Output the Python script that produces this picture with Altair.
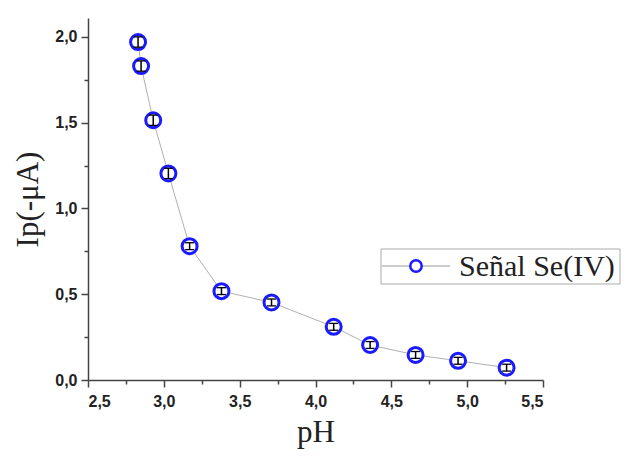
import altair as alt
import pandas as pd

# data
ph = [2.83, 2.85, 2.93, 3.03, 3.17, 3.38, 3.71, 4.12, 4.36, 4.66, 4.94, 5.26]
ip = [1.97, 1.83, 1.514, 1.204, 0.78, 0.518, 0.452, 0.31, 0.204, 0.146, 0.112, 0.072]
err = [0.03, 0.03, 0.03, 0.03, 0.02, 0.02, 0.02, 0.02, 0.02, 0.02, 0.02, 0.02]
x_ticks = [2.5, 2.75, 3.0, 3.25, 3.5, 3.75, 4.0, 4.25, 4.5, 4.75, 5.0, 5.25, 5.5]
y_ticks = [0.0, 0.25, 0.5, 0.75, 1.0, 1.25, 1.5, 1.75, 2.0]
legend_label = ["Señal Se(IV)"]

df = pd.DataFrame({"pH": ph, "Ip": ip, "err": err})
leg = pd.DataFrame({"label": legend_label})

major = "datum.value*2 == round(datum.value*2)"
label_expr = f"{major} ? replace(format(datum.value, '.1f'), '.', ',') : ''"
tick_size = {"condition": {"test": major, "value": 7}, "value": 4}

axis_common = dict(
    labelExpr=label_expr,
    labelOverlap=False,
    labelFont="Liberation Sans",
    labelFontWeight="bold",
    labelFontSize=16,
    labelColor="#222",
    titleFont="Liberation Serif",
    titleFontWeight="normal",
    titleFontSize=31,
    titleColor="#222",
    domainColor="#444",
    domainWidth=1.5,
    tickColor="#444",
    tickWidth=1.5,
    tickSize=tick_size,
    grid=False,
)

xscale = alt.Scale(domain=[2.5, 5.5], nice=False, zero=False)
yscale = alt.Scale(domain=[0, 2.11], nice=False)
xaxis = alt.Axis(values=x_ticks, title="pH", labelPadding=6, titlePadding=8, **axis_common)
yaxis = alt.Axis(values=y_ticks, title="Ip(-μA)", labelPadding=4, titlePadding=10, **axis_common)
x = alt.X("pH:Q", scale=xscale, axis=xaxis)
y = alt.Y("Ip:Q", scale=yscale, axis=yaxis)

base = alt.Chart(df).transform_calculate(lo="datum.Ip - datum.err", hi="datum.Ip + datum.err")
line = base.mark_line(color="#b0b0b0", strokeWidth=1).encode(x=x, y=y)
pts = base.mark_point(shape="circle", size=225, filled=False, fill="white", fillOpacity=1,
                      stroke="#1a1aff", strokeWidth=3, opacity=1).encode(x=x, y=y)
bar = base.mark_rule(color="black", strokeWidth=1.5).encode(
    x=x, y=alt.Y("lo:Q", scale=yscale, axis=yaxis), y2="hi:Q")
cap_shape = "M-1,0L1,0"
cap_lo = base.mark_point(shape=cap_shape, size=81, stroke="black", strokeWidth=1.3, opacity=1).encode(
    x=x, y=alt.Y("lo:Q", scale=yscale, axis=yaxis))
cap_hi = base.mark_point(shape=cap_shape, size=81, stroke="black", strokeWidth=1.3, opacity=1).encode(
    x=x, y=alt.Y("hi:Q", scale=yscale, axis=yaxis))

lchart = alt.Chart(leg)
box = lchart.mark_rect(fill="white", stroke="#aaaaaa", strokeWidth=1).encode(
    x=alt.value(293), x2=alt.value(532), y=alt.value(231), y2=alt.value(266))
lline = lchart.mark_rule(color="#999999", strokeWidth=1).encode(
    x=alt.value(294), x2=alt.value(362), y=alt.value(248))
lpt = lchart.mark_point(shape="circle", size=130, filled=False, fill="white", fillOpacity=1,
                        stroke="#1a1aff", strokeWidth=2.5, opacity=1).encode(
    x=alt.value(328), y=alt.value(248))
ltext = lchart.mark_text(align="left", baseline="middle", font="Liberation Serif", fontSize=30,
                         color="#222").encode(x=alt.value(371), y=alt.value(249), text="label:N")

chart = alt.layer(line, pts, bar, cap_lo, cap_hi, box, lline, lpt, ltext).properties(
    width=455, height=362,
    padding={"left": 12, "top": 18, "right": 5, "bottom": 5},
).configure_view(stroke=None)

chart.save("out.html", embed_options={"renderer": "svg", "actions": False})
